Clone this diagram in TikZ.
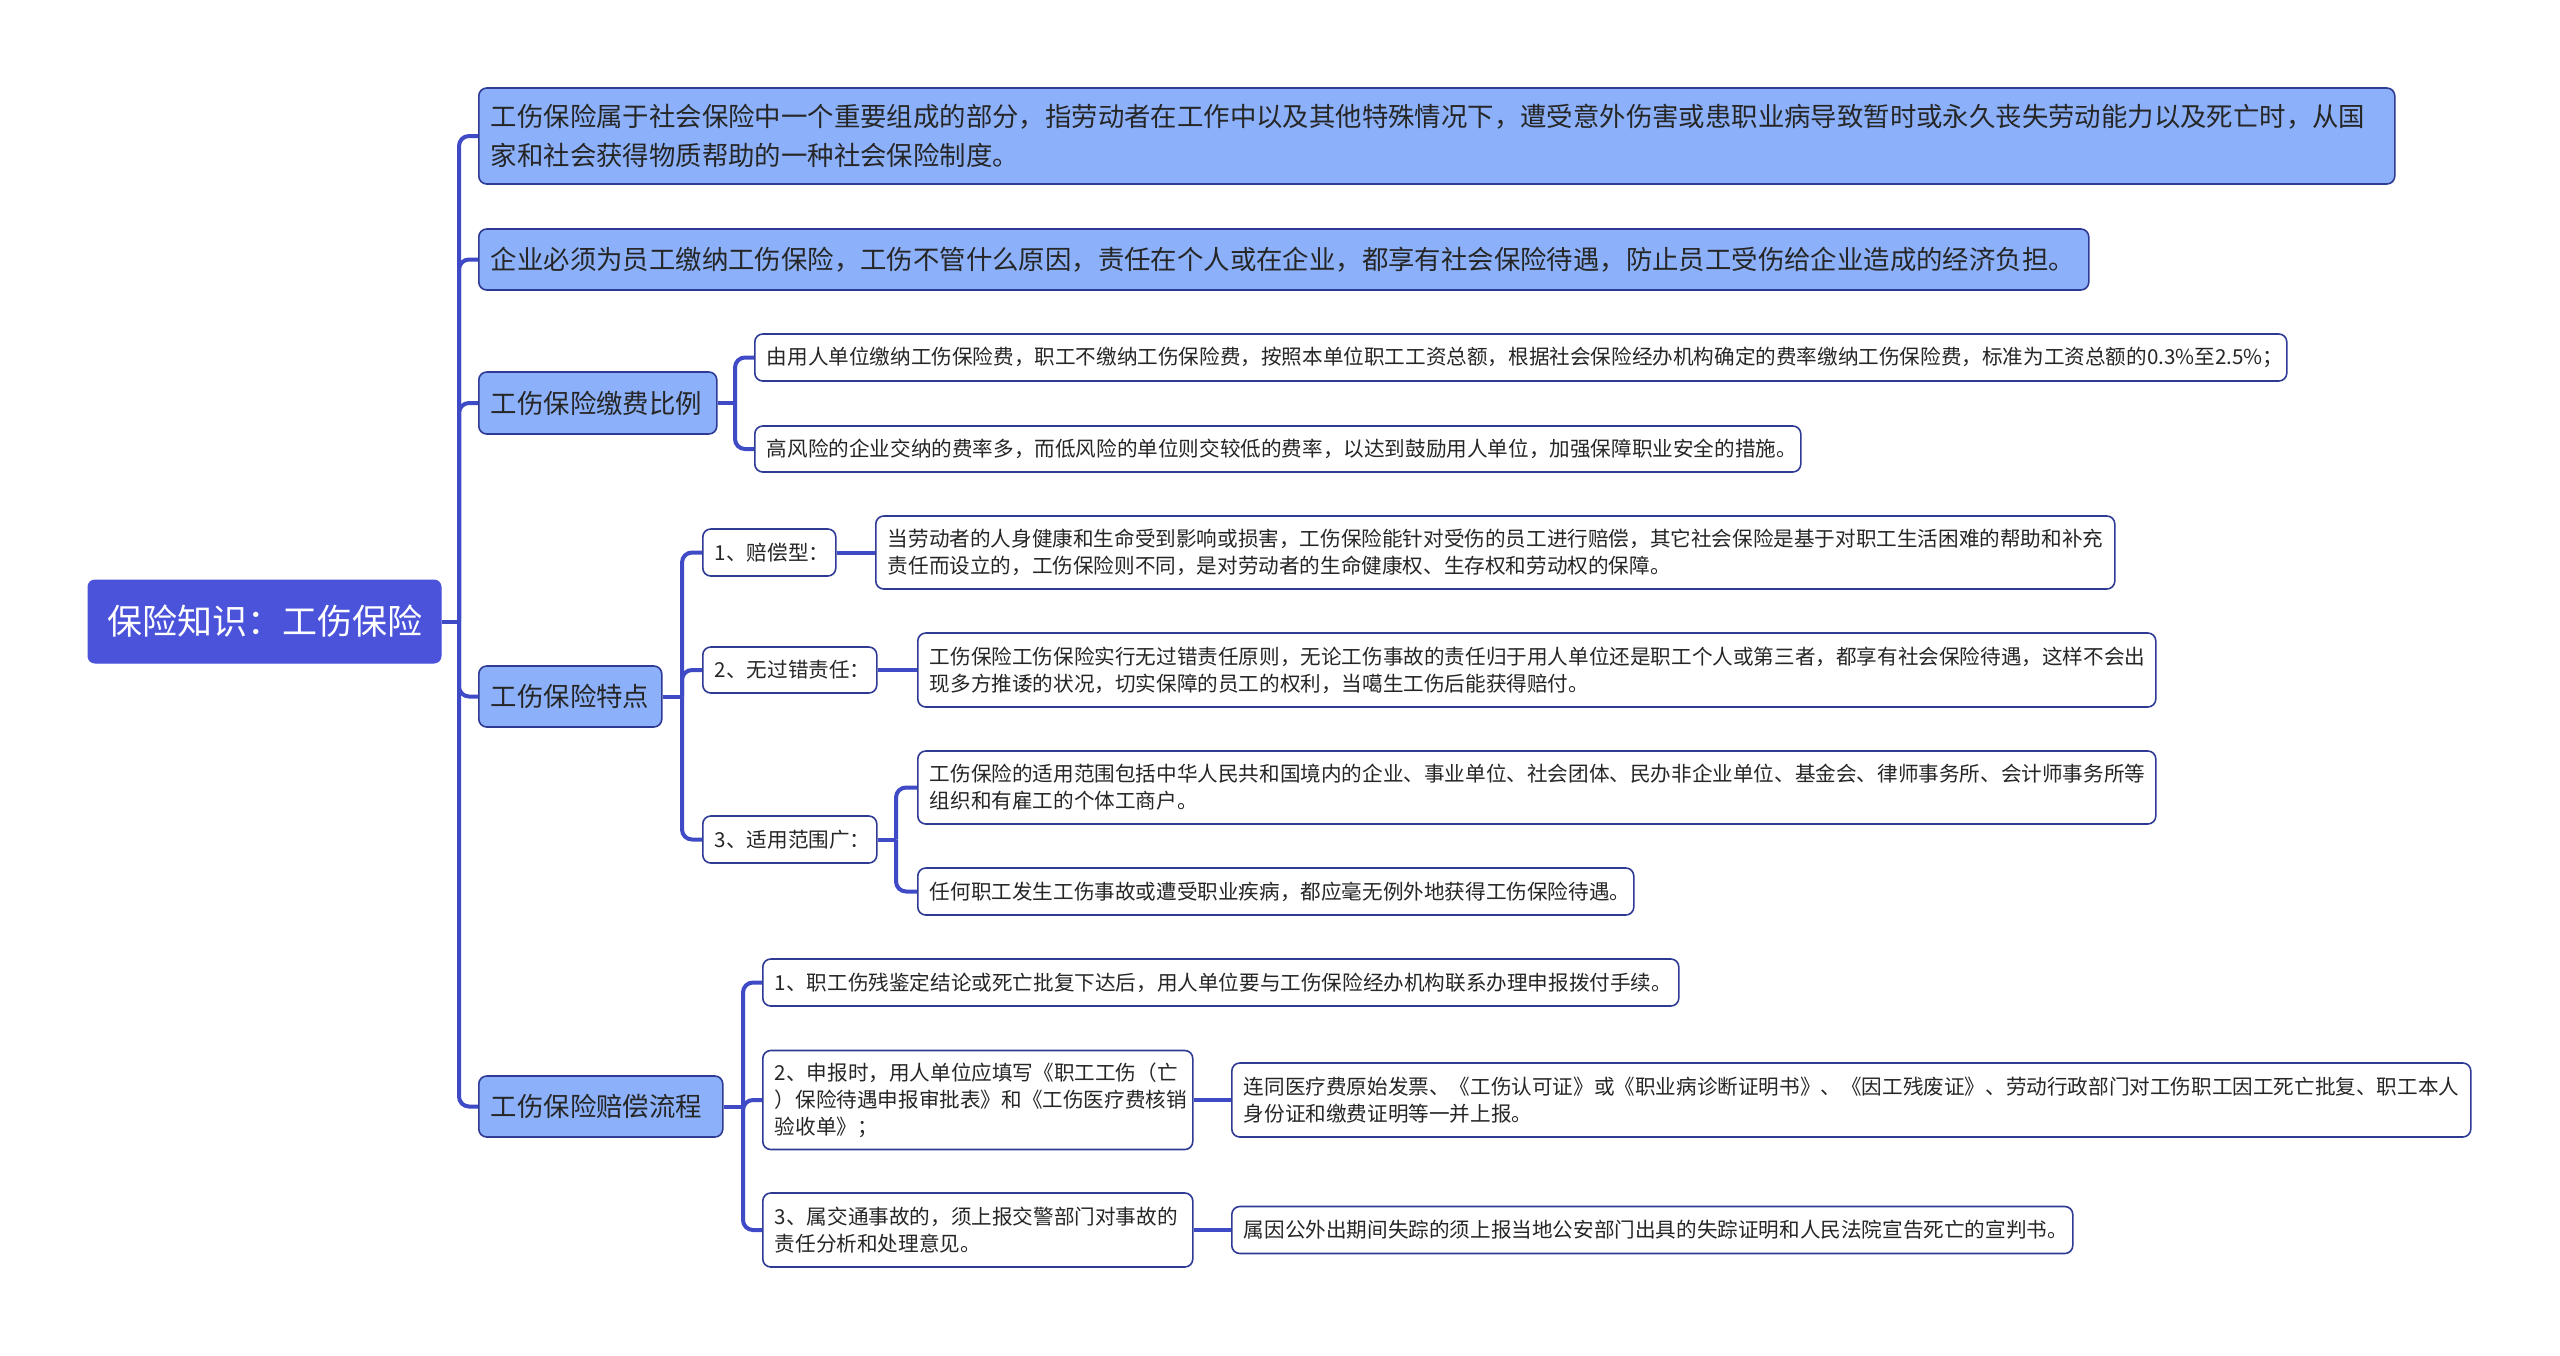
\documentclass[tikz,border=0pt]{standalone}
\usepackage{fontspec}
\setmainfont{Noto Sans CJK SC}
\definecolor{rootblue}{HTML}{4A53D9}
\definecolor{lblue}{HTML}{8CB1FA}
\definecolor{navy}{HTML}{2E3A94}
\definecolor{lineblue}{HTML}{3F4BC6}
\tikzset{
  rootbox/.style={fill=rootblue, draw=rootblue, line width=1, rounded corners=7,
    text=white, font=\fontsize{35}{42}\selectfont, inner sep=0, align=center},
  lonebox/.style={fill=lblue, draw=navy, line width=1.6, rounded corners=8,
    text=black!85, font=\fontsize{26.4}{39}\selectfont, inner xsep=12, inner ysep=0,
    align=left, anchor=west},
  ltwobox/.style={fill=white, draw=navy, line width=1.6, rounded corners=8,
    text=black!85, font=\fontsize{20.6}{27}\selectfont, inner xsep=12, inner ysep=0,
    align=left, anchor=west},
  conn/.style={draw=lineblue, line width=4, rounded corners=10},
}
\begin{document}
\begin{tikzpicture}[x=1pt,y=-1pt]
\useasboundingbox (0,0) rectangle (2560,1355);
\fill[white] (0,0) rectangle (2560,1355);

% root
\node[rootbox, minimum width=353, minimum height=83] (root) at (264.5,621.5) {保险知识：工伤保险};

% level 1
\node[lonebox, text width=1892, minimum height=96] (def) at (478,136)
  {工伤保险属于社会保险中一个重要组成的部分，指劳动者在工作中以及其他特殊情况下，遭受意外伤害或患职业病导致暂时或永久丧失劳动能力以及死亡时，从国\\家和社会获得物质帮助的一种社会保险制度。};
\node[lonebox, text width=1586, minimum height=61] (must) at (478,259.5)
  {企业必须为员工缴纳工伤保险，工伤不管什么原因，责任在个人或在企业，都享有社会保险待遇，防止员工受伤给企业造成的经济负担。};
\node[lonebox, text width=214, minimum height=62] (rate) at (478,403) {工伤保险缴费比例};
\node[lonebox, text width=159, minimum height=61] (feat) at (478,696.5) {工伤保险特点};
\node[lonebox, text width=220, minimum height=61] (proc) at (478,1106.5) {工伤保险赔偿流程};

% rate children
\node[ltwobox, text width=1508, minimum height=47] (rateA) at (754,357.5)
  {由用人单位缴纳工伤保险费，职工不缴纳工伤保险费，按照本单位职工工资总额，根据社会保险经办机构确定的费率缴纳工伤保险费，标准为工资总额的0.3\%至2.5\%；};
\node[ltwobox, text width=1022, minimum height=46] (rateB) at (754,449)
  {高风险的企业交纳的费率多，而低风险的单位则交较低的费率，以达到鼓励用人单位，加强保障职业安全的措施。};

% feature children
\node[ltwobox, text width=109, minimum height=47] (featA) at (702,552.5) {1、赔偿型：};
\node[ltwobox, text width=150, minimum height=46] (featB) at (702,670) {2、无过错责任：};
\node[ltwobox, text width=150, minimum height=47] (featC) at (702,839.5) {3、适用范围广：};

\node[ltwobox, text width=1215, minimum height=73] (featAa) at (875,552.5)
  {当劳动者的人身健康和生命受到影响或损害，工伤保险能针对受伤的员工进行赔偿，其它社会保险是基于对职工生活困难的帮助和补充\\责任而设立的，工伤保险则不同，是对劳动者的生命健康权、生存权和劳动权的保障。};
\node[ltwobox, text width=1214, minimum height=74] (featBa) at (917,670)
  {工伤保险工伤保险实行无过错责任原则，无论工伤事故的责任归于用人单位还是职工个人或第三者，都享有社会保险待遇，这样不会出\\现多方推诿的状况，切实保障的员工的权利，当噶生工伤后能获得赔付。};
\node[ltwobox, text width=1214, minimum height=73] (featCa) at (917,787.5)
  {工伤保险的适用范围包括中华人民共和国境内的企业、事业单位、社会团体、民办非企业单位、基金会、律师事务所、会计师事务所等\\组织和有雇工的个体工商户。};
\node[ltwobox, text width=692, minimum height=47] (featCb) at (917,891.5)
  {任何职工发生工伤事故或遭受职业疾病，都应毫无例外地获得工伤保险待遇。};

% process children
\node[ltwobox, text width=892, minimum height=47] (procA) at (762,982.5)
  {1、职工伤残鉴定结论或死亡批复下达后，用人单位要与工伤保险经办机构联系办理申报拨付手续。};
\node[ltwobox, text width=406, minimum height=99] (procB) at (762,1100)
  {2、申报时，用人单位应填写《职工工伤（亡\\）保险待遇申报审批表》和《工伤医疗费核销\\验收单》；};
\node[ltwobox, text width=406, minimum height=74] (procC) at (762,1230)
  {3、属交通事故的，须上报交警部门对事故的\\责任分析和处理意见。};
\node[ltwobox, text width=1215, minimum height=74] (procBa) at (1231,1100)
  {连同医疗费原始发票、《工伤认可证》或《职业病诊断证明书》、《因工残废证》、劳动行政部门对工伤职工因工死亡批复、职工本人\\身份证和缴费证明等一并上报。};
\node[ltwobox, text width=817, minimum height=47] (procCa) at (1231,1230)
  {属因公外出期间失踪的须上报当地公安部门出具的失踪证明和人民法院宣告死亡的宣判书。};

% junction points
\coordinate (t0) at (459,621.5);
\coordinate (t1) at (735,403);
\coordinate (t2) at (682,696.5);
\coordinate (t3) at (896,839.5);
\coordinate (t4) at (743,1106.5);

% connectors
\draw[conn] (root.east) -- (t0);
\foreach \c in {def,must,rate,feat,proc} \draw[conn] (t0) |- (\c.west);
\draw[conn] (rate.east) -- (t1);
\foreach \c in {rateA,rateB} \draw[conn] (t1) |- (\c.west);
\draw[conn] (feat.east) -- (t2);
\foreach \c in {featA,featB,featC} \draw[conn] (t2) |- (\c.west);
\draw[conn] (featA.east) -- (featAa.west);
\draw[conn] (featB.east) -- (featBa.west);
\draw[conn] (featC.east) -- (t3);
\foreach \c in {featCa,featCb} \draw[conn] (t3) |- (\c.west);
\draw[conn] (proc.east) -- (t4);
\foreach \c in {procA,procB,procC} \draw[conn] (t4) |- (\c.west);
\draw[conn] (procB.east) -- (procBa.west);
\draw[conn] (procC.east) -- (procCa.west);
\end{tikzpicture}
\end{document}
